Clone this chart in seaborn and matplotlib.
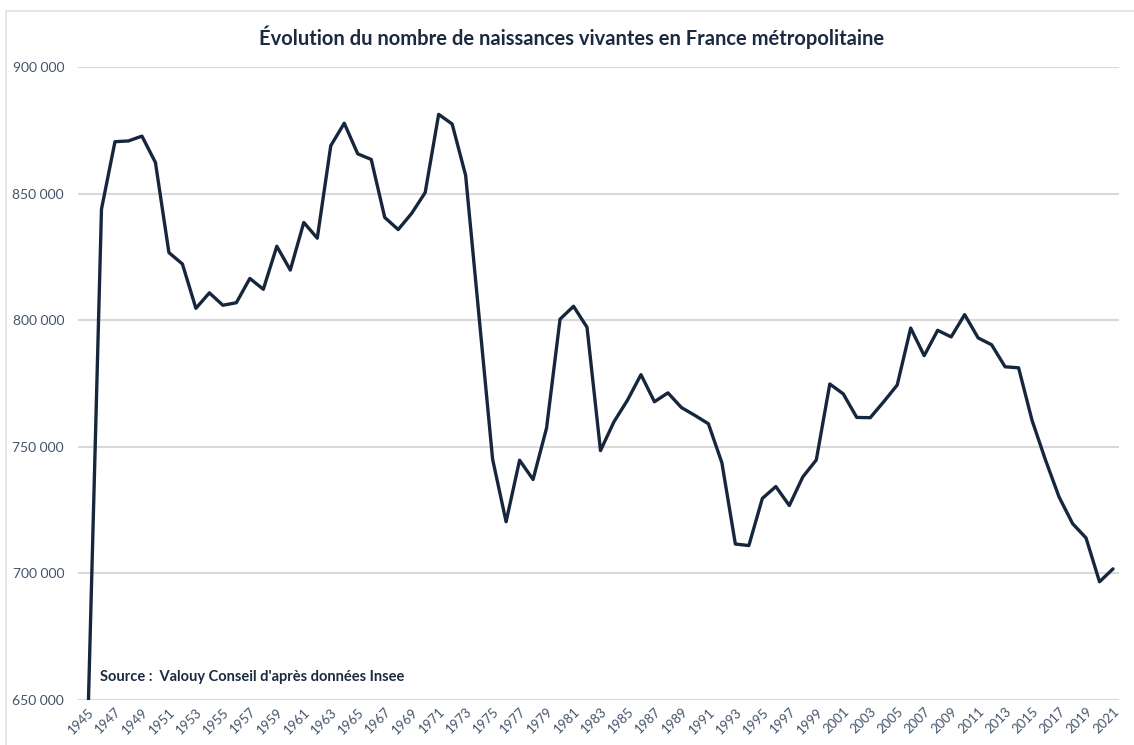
import matplotlib
matplotlib.use("Agg")
import matplotlib.pyplot as plt
import matplotlib.ticker as mticker
from matplotlib.patches import Rectangle
import pandas as pd
import seaborn as sns

# Births per year, France métropolitaine
years = list(range(1945, 2022))
births = [
    643000, 843900, 870500, 870800, 872700, 862300, 826700, 822200, 804700, 810800,
    805900, 806900, 816500, 812200, 829200, 819800, 838600, 832400, 868900, 877800,
    865700, 863500, 840600, 835800, 842200, 850400, 881300, 877500, 857200, 801200,
    745100, 720400, 744700, 737100, 757400, 800400, 805500, 797200, 748500, 759900,
    768400, 778500, 767800, 771300, 765500, 762400, 759100, 743700, 711600, 711000,
    729600, 734300, 726800, 738100, 744800, 774800, 770900, 761600, 761500, 767800,
    774400, 796900, 786000, 796000, 793400, 802200, 793000, 790300, 781600, 781200,
    760400, 744700, 730200, 719700, 714000, 696700, 701800,
]
y_ticks = [650000, 700000, 750000, 800000, 850000, 900000]
x_ticks = list(range(1945, 2022, 2))

title = "Évolution du nombre de naissances vivantes en France métropolitaine"
source = "Source :  Valouy Conseil d'après données Insee"

LINE = "#16263D"
TEXT = "#44546A"
GRID = "#D9D9D9"

sns.set_theme(style="white")
plt.rcParams["font.family"] = ["Lato", "DejaVu Sans"]

df = pd.DataFrame({"year": years, "births": births})

fig = plt.figure(figsize=(11.34, 7.45), dpi=100)
ax = fig.add_axes([78 / 1134, 45 / 745, (1119 - 78) / 1134, 633 / 745])

# light chart-area border (top and left edges visible)
fig.patches.append(Rectangle((6 / 1134, -0.1), 1.2, (734 / 745) + 0.1,
                             transform=fig.transFigure, fill=False,
                             edgecolor="#E3E3E3", linewidth=1.2))

sns.lineplot(data=df, x="year", y="births", ax=ax, color=LINE,
             linewidth=2.4, zorder=3)

ax.set_ylim(650000, 900000)
ax.set_xlim(1945 - 10 / 13.49, 2021 + 6 / 13.49)
ax.set_yticks(y_ticks)
ax.yaxis.set_major_formatter(
    mticker.FuncFormatter(lambda v, p: f"{int(v):,}".replace(",", " ")))
ax.set_xticks(x_ticks)
ax.set_xticklabels([str(y) for y in x_ticks], rotation=45, ha="right",
                   rotation_mode="anchor")
ax.tick_params(axis="x", length=0, pad=4, labelsize=9.5, labelcolor=TEXT)
ax.tick_params(axis="y", length=0, pad=10, labelsize=10, labelcolor=TEXT)
ax.grid(axis="y", color=GRID, linewidth=1.5)
ax.set_axisbelow(True)
for s in ax.spines.values():
    s.set_visible(False)
ax.set_xlabel("")
ax.set_ylabel("")

fig.text(572 / 1134, 1 - 37 / 745, title, ha="center", va="center",
         fontsize=14.5, fontweight="bold", color="#1B2A41")
ax.text(0.021, 0.025, source, transform=ax.transAxes, ha="left", va="bottom",
        fontsize=10.5, fontweight="bold", color="#1B2A41")

fig.savefig("out.png", dpi=100, facecolor="white")
